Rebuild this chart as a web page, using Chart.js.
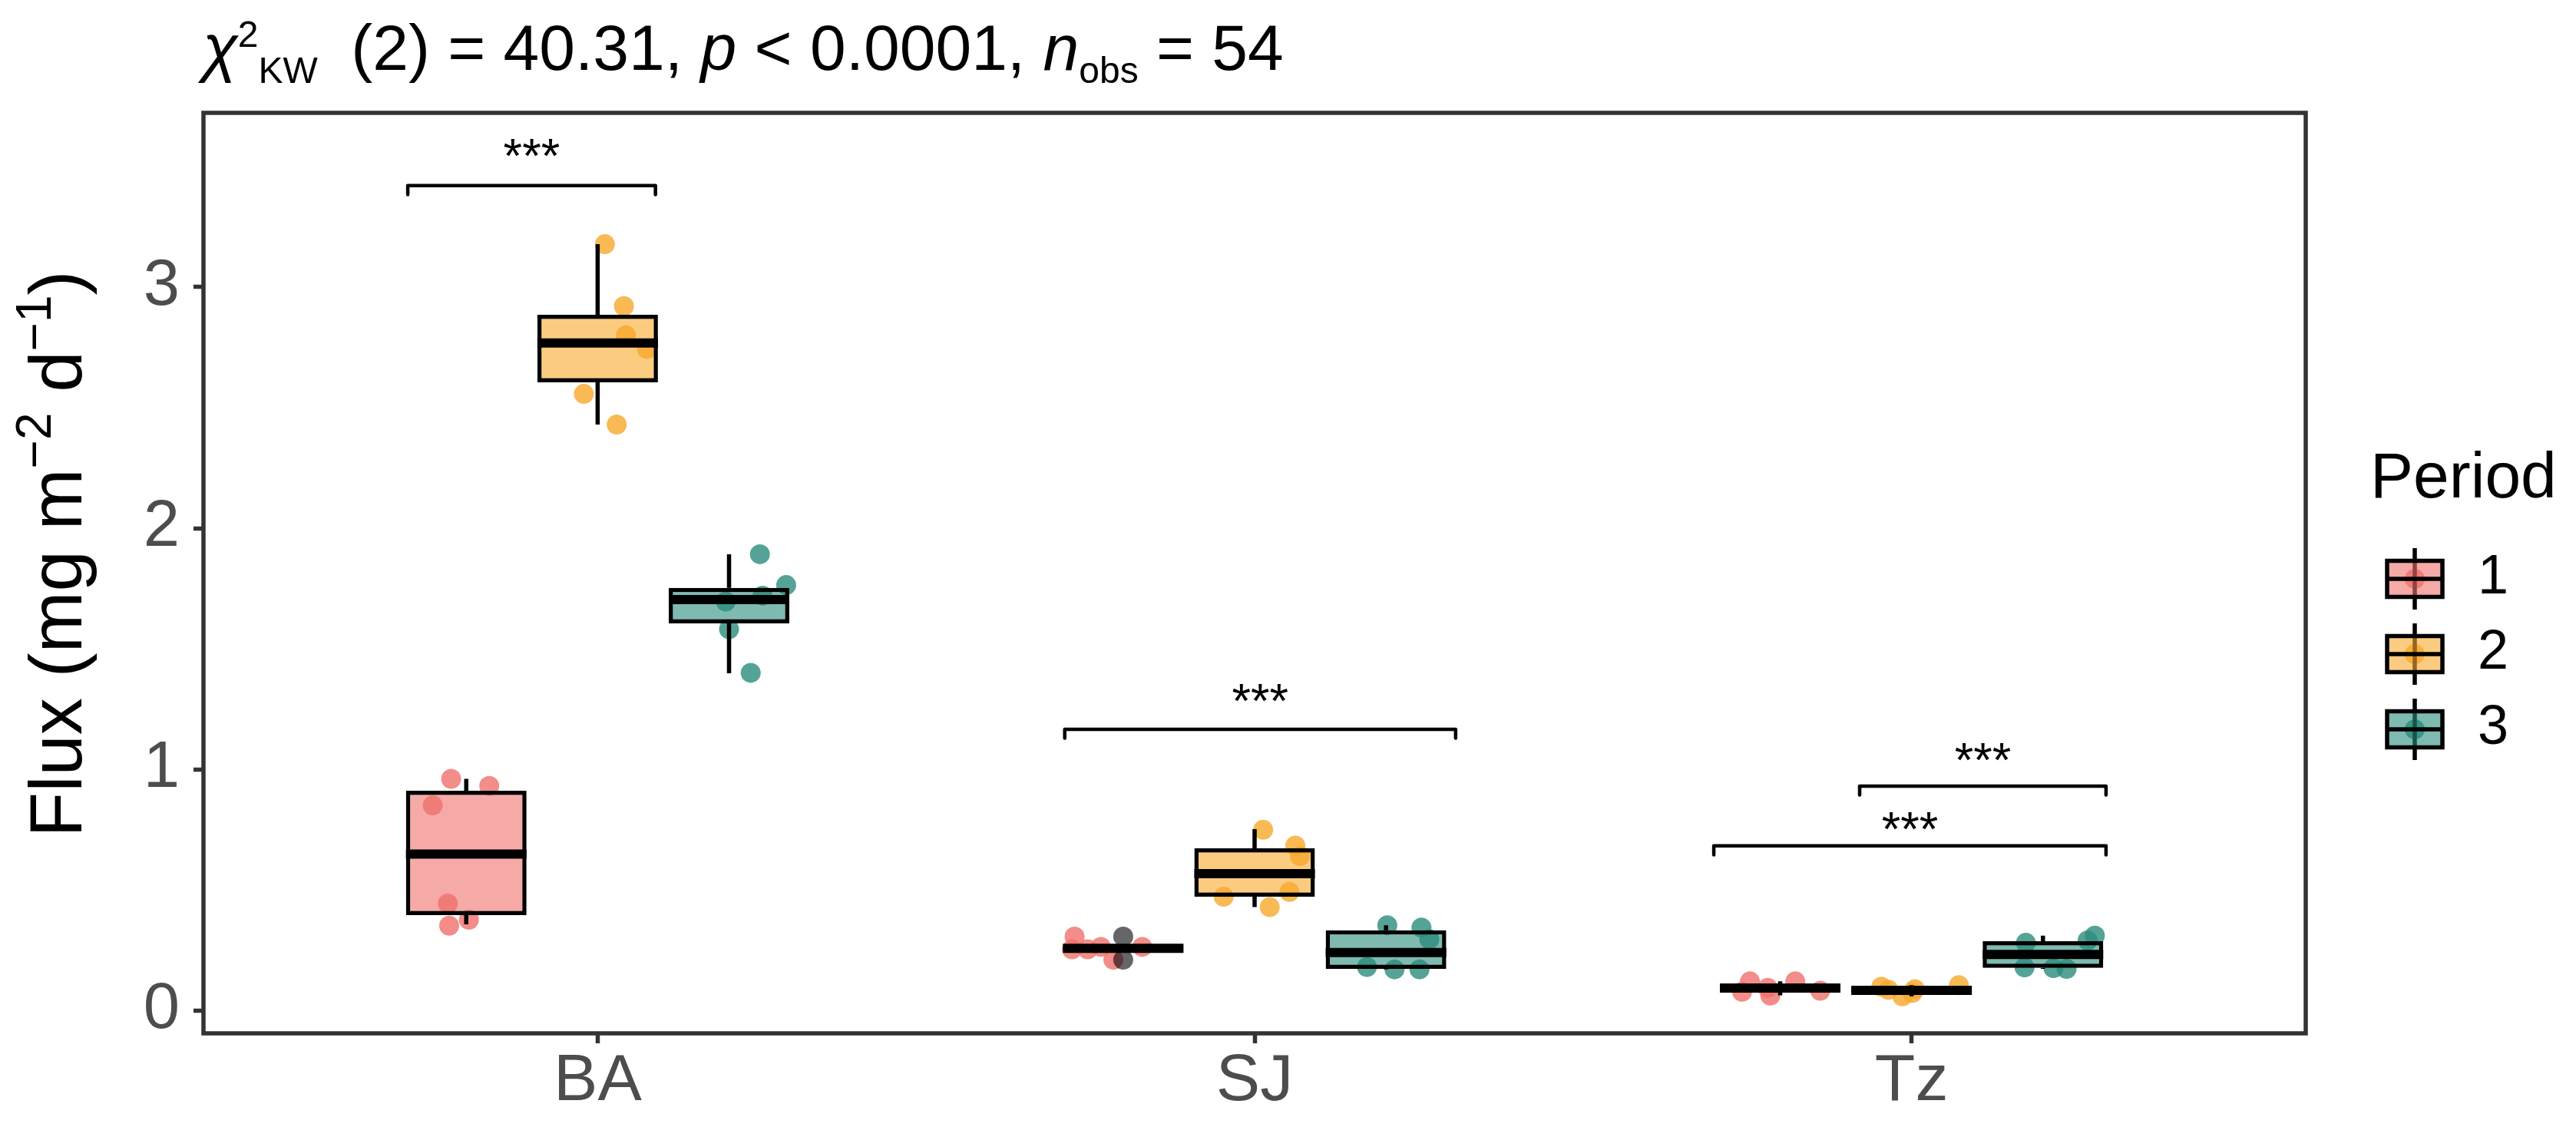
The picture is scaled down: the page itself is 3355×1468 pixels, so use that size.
<!DOCTYPE html>
<html><head><meta charset="utf-8">
<script src="https://cdn.jsdelivr.net/npm/chart.js@4.4.1/dist/chart.umd.min.js"></script>
<style>html,body{margin:0;padding:0;background:#fff;}canvas{display:block;}</style>
</head><body>
<canvas id="c" width="3355" height="1468"></canvas>
<script>
// ---------- DATA ----------
const categories = ['BA', 'SJ', 'Tz'];
const periods = ['1', '2', '3'];
const yTicks = [0, 1, 2, 3];

// observations (one list per site) and their horizontal jitter (category units)
const p1Values = [[0.96, 0.931, 0.85, 0.443, 0.376, 0.351], [0.306, 0.253, 0.253, 0.263, 0.263, 0.21], [0.120, 0.077, 0.093, 0.061, 0.120, 0.081]];
const p1Jitter = [[-0.023, 0.035, -0.051, -0.028, 0.004, -0.026], [-0.074, -0.078, -0.054, -0.034, 0.029, -0.015], [-0.046, -0.058, -0.019, -0.015, 0.023, 0.061]];
const p2Values = [[3.178, 2.921, 2.80, 2.744, 2.557, 2.43], [0.749, 0.683, 0.64, 0.491, 0.471, 0.428], [0.098, 0.085, 0.058, 0.088, 0.072, 0.104]];
const p2Jitter = [[0.011, 0.040, 0.043, 0.075, -0.021, 0.029], [0.013, 0.062, 0.069, 0.053, -0.047, 0.023], [-0.046, -0.035, -0.014, 0.005, 0.001, 0.072]];
const p3Values = [[1.892, 1.764, 1.72, 1.696, 1.581, 1.40], [0.353, 0.343, 0.295, 0.18, 0.17, 0.17], [0.28, 0.31, 0.29, 0.178, 0.175, 0.172]];
const p3Jitter = [[0.047, 0.087, 0.051, -0.005, 0.0, 0.033], [0.002, 0.054, 0.066, -0.029, 0.013, 0.051], [-0.026, 0.079, 0.068, -0.028, 0.016, 0.036]];

// box statistics per site (BA, SJ, Tz)
const p1Q1 = [0.395, 0.253, 0.080], p1Median = [0.648, 0.257, 0.092], p1Q3 = [0.911, 0.263, 0.106], p1Low = [0.357, 0.253, 0.062], p1High = [0.96, 0.263, 0.12];
const p2Q1 = [2.605, 0.471, 0.074], p2Median = [2.768, 0.567, 0.083], p2Q3 = [2.885, 0.672, 0.094], p2Low = [2.43, 0.428, 0.058], p2High = [3.178, 0.752, 0.104];
const p3Q1 = [1.605, 0.172, 0.176], p3Median = [1.704, 0.24, 0.232], p3Q3 = [1.752, 0.332, 0.287], p3Low = [1.398, 0.17, 0.172], p3High = [1.892, 0.353, 0.31];

// boxplot outliers
const outlierSite = [2, 2];
const outlierPeriod = [1, 1];
const outlierValue = [0.306, 0.21];

// significance brackets
const bracketStart = [0.711, 1.711, 2.699, 2.921];
const bracketEnd = [1.088, 2.306, 3.296, 3.296];
const bracketY = [3.421, 1.166, 0.682, 0.93];
const bracketLabelY = [3.573, 1.312, 0.780, 1.067];
const bracketLabel = ['***', '***', '***', '***'];

// ---------- STYLE ----------
const FONT = "'Liberation Sans', Arial, Helvetica, sans-serif";
const baseRGB = [[239, 113, 108], [248, 168, 43], [42, 140, 125]];
const rgba = (c, a) => `rgba(${c[0]},${c[1]},${c[2]},${a})`;
const DODGE = 0.2;          // offset between the three periods (category units)
const BAR_PCT = 0.9176;     // box width fraction of the dodge slot
const BOX_HALF = DODGE * BAR_PCT / 2;
const TIP = 0.037;
const LW = 5.5;

const values = [p1Values, p2Values, p3Values];
const jitter = [p1Jitter, p2Jitter, p3Jitter];
const q1s = [p1Q1, p2Q1, p3Q1], meds = [p1Median, p2Median, p3Median], q3s = [p1Q3, p2Q3, p3Q3];
const lows = [p1Low, p2Low, p3Low], highs = [p1High, p2High, p3High];

const datasets = [];
periods.forEach((p, k) => {
  const off = (k - 1) * DODGE;
  const pts = [];
  categories.forEach((c, i) => values[k][i].forEach((v, j) => pts.push({x: i + 1 + off + jitter[k][i][j], y: v})));
  datasets.push({type: 'line', label: 'pts' + p, data: pts, showLine: false, pointRadius: 13, pointHoverRadius: 13,
    pointBackgroundColor: rgba(baseRGB[k], 0.8), pointBorderWidth: 0, order: 6});
  datasets.push({type: 'bar', label: 'Period ' + p, data: categories.map((c, i) => ({x: i + 1, y: [q1s[k][i], q3s[k][i]]})),
    backgroundColor: rgba(baseRGB[k], 0.6), borderColor: '#000', borderWidth: LW, borderSkipped: false,
    categoryPercentage: 0.6, barPercentage: BAR_PCT, order: 5});
  const wh = [];
  categories.forEach((c, i) => {
    const x = i + 1 + off;
    wh.push({x, y: highs[k][i]}, {x, y: q3s[k][i]}, {x, y: null}, {x, y: q1s[k][i]}, {x, y: lows[k][i]}, {x, y: null});
  });
  datasets.push({type: 'line', label: 'wh' + p, data: wh, borderColor: '#000', borderWidth: LW, pointRadius: 0, spanGaps: false, borderCapStyle: 'butt', order: 4});
  const md = [];
  categories.forEach((c, i) => {
    const x = i + 1 + off;
    md.push({x: x - BOX_HALF, y: meds[k][i]}, {x: x + BOX_HALF, y: meds[k][i]}, {x, y: null});
  });
  datasets.push({type: 'line', label: 'md' + p, data: md, borderColor: '#000', borderWidth: 12, pointRadius: 0, spanGaps: false, borderCapStyle: 'butt', order: 3});
});
datasets.push({type: 'line', label: 'outliers', data: outlierValue.map((v, i) => ({x: outlierSite[i] + (outlierPeriod[i] - 2) * DODGE, y: v})),
  showLine: false, pointRadius: 13, pointBackgroundColor: 'rgba(0,0,0,0.6)', pointBorderWidth: 0, order: 2});
bracketY.forEach((y, i) => {
  datasets.push({type: 'line', label: 'br' + i, data: [
    {x: bracketStart[i], y: y - TIP}, {x: bracketStart[i], y}, {x: bracketEnd[i], y}, {x: bracketEnd[i], y: y - TIP}],
    borderColor: '#000', borderWidth: 4.5, pointRadius: 0, borderJoinStyle: 'round', borderCapStyle: 'round', order: 1});
});

// ---------- PLUGINS ----------
function layoutRich(ctx, segs) {
  let w = 0;
  segs.forEach(s => {
    ctx.font = `${s.italic ? 'italic ' : ''}${s.size}px ${FONT}`;
    w += (s.gap || 0);
    s.x = w;
    w += ctx.measureText(s.t).width;
  });
  return w;
}
function drawRich(ctx, segs, x0, y0) {
  segs.forEach(s => {
    ctx.font = `${s.italic ? 'italic ' : ''}${s.size}px ${FONT}`;
    ctx.fillText(s.t, x0 + s.x, y0 + (s.dy || 0));
  });
}
const decor = {
  id: 'decor',
  afterDatasetsDraw(chart) {
    const ctx = chart.ctx, xs = chart.scales.x, ys = chart.scales.y, a = chart.chartArea;
    ctx.save();
    ctx.fillStyle = '#000';
    ctx.textAlign = 'center';
    ctx.textBaseline = 'alphabetic';
    ctx.font = `63px ${FONT}`;
    bracketLabel.forEach((t, i) => {
      const px = xs.getPixelForValue((bracketStart[i] + bracketEnd[i]) / 2);
      const py = ys.getPixelForValue(bracketLabelY[i]) + 30;
      ctx.fillText(t, px, py);
    });
    ctx.strokeStyle = '#333333';
    ctx.lineWidth = LW;
    ctx.strokeRect(a.left, a.top, a.right - a.left, a.bottom - a.top);
    ctx.restore();
  },
  afterDraw(chart) {
    const ctx = chart.ctx, a = chart.chartArea;
    ctx.save();
    ctx.fillStyle = '#000';
    ctx.textAlign = 'left';
    ctx.textBaseline = 'alphabetic';
    // title
    const T = 84, S = 48;
    const title = [
      {t: 'χ', size: T, italic: true},
      {t: '2', size: S, dy: -30},
      {t: 'KW', size: S, dy: 17},
      {t: ' (2) = 40.31, ', size: T, gap: 20},
      {t: 'p', size: T, italic: true},
      {t: ' < 0.0001, ', size: T},
      {t: 'n', size: T, italic: true},
      {t: 'obs', size: S, dy: 17},
      {t: ' = 54', size: T}
    ];
    layoutRich(ctx, title);
    drawRich(ctx, title, 264, 91);
    // y axis title
    const main = 96, sup = 64;
    const segs = [
      {t: 'Flux (mg m', size: main},
      {t: '\u22122', size: sup, dy: -0.42 * main},
      {t: ' d', size: main},
      {t: '\u22121', size: sup, dy: -0.42 * main},
      {t: ')', size: main}
    ];
    const w = layoutRich(ctx, segs);
    ctx.save();
    ctx.translate(106, (a.top + a.bottom) / 2 - 25);
    ctx.rotate(-Math.PI / 2);
    drawRich(ctx, segs, -w / 2, 0);
    ctx.restore();
    // legend
    ctx.font = `84px ${FONT}`;
    ctx.fillText('Period', 3087, 648);
    const cx = 3145, cys = [754, 852, 950];
    periods.forEach((p, k) => {
      const cy = cys[k];
      ctx.fillStyle = rgba(baseRGB[k], 0.8);
      ctx.beginPath(); ctx.arc(cx, cy, 13, 0, Math.PI * 2); ctx.fill();
      ctx.strokeStyle = '#000'; ctx.lineWidth = LW;
      ctx.beginPath(); ctx.moveTo(cx, cy - 40); ctx.lineTo(cx, cy + 40); ctx.stroke();
      ctx.fillStyle = rgba(baseRGB[k], 0.6);
      ctx.fillRect(cx - 36, cy - 23.5, 72, 47);
      ctx.strokeRect(cx - 36, cy - 23.5, 72, 47);
      ctx.beginPath(); ctx.moveTo(cx - 36, cy); ctx.lineTo(cx + 36, cy); ctx.stroke();
      ctx.fillStyle = '#000';
      ctx.font = `72px ${FONT}`;
      ctx.fillText(p, 3227, cy + 19);
    });
    ctx.restore();
  }
};

const bg = {id: 'bg', beforeDraw(chart) { const c = chart.ctx; c.save(); c.fillStyle = '#fff'; c.fillRect(0, 0, chart.width, chart.height); c.restore(); }};

const tickGrid = {display: true, offset: false, drawOnChartArea: false, drawTicks: true, tickLength: 13, tickWidth: LW, tickColor: '#333333', color: 'rgba(0,0,0,0)'};

new Chart(document.getElementById('c'), {
  type: 'bar',
  data: {datasets},
  options: {
    responsive: false, animation: false, devicePixelRatio: 1,
    layout: {padding: {top: 147, right: 352, left: 0, bottom: 0}},
    plugins: {legend: {display: false}, tooltip: {enabled: false}, title: {display: false}},
    scales: {
      x: {
        type: 'linear', min: 0.4, max: 3.6, offset: false,
        afterBuildTicks: s => { s.ticks = categories.map((c, i) => ({value: i + 1})); },
        afterFit: s => { s.height = 122; },
        ticks: {callback: v => categories[v - 1], font: {family: FONT, size: 86, lineHeight: 1}, color: '#4D4D4D', padding: 7, maxRotation: 0, autoSkip: false},
        grid: tickGrid,
        border: {display: false}
      },
      y: {
        type: 'linear', min: -0.0955, max: 3.7229,
        afterBuildTicks: s => { s.ticks = yTicks.map(v => ({value: v})); },
        afterFit: s => { s.width = 265; },
        ticks: {callback: v => String(v), font: {family: FONT, size: 85}, color: '#4D4D4D', padding: 18},
        grid: tickGrid,
        border: {display: false}
      }
    }
  },
  plugins: [bg, decor]
});
</script>
</body></html>
